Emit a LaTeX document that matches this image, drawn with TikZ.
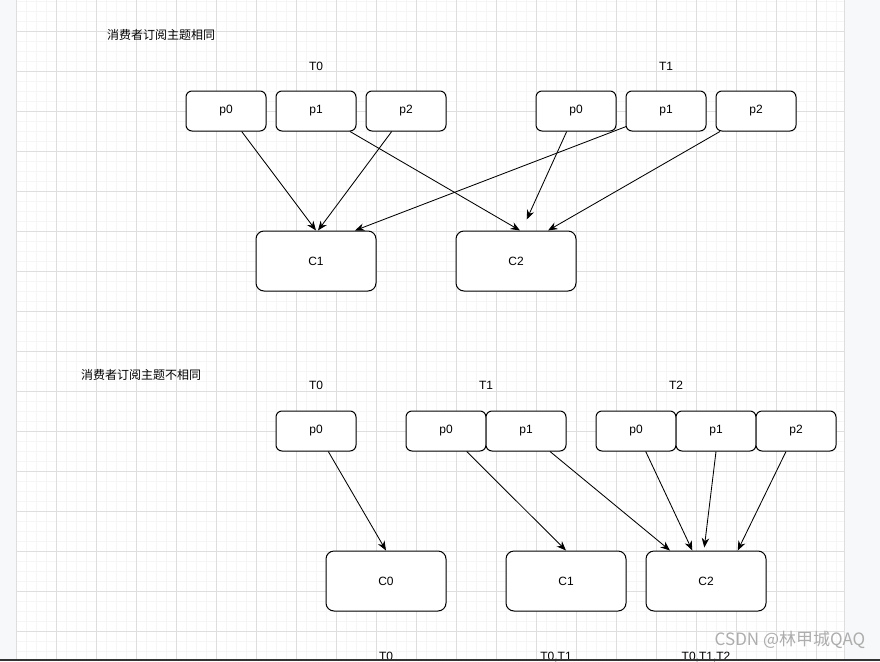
\documentclass[tikz,border=0pt]{standalone}
\usepackage{fontspec}
\setmainfont{Liberation Sans}
\newfontfamily\cjk{Noto Sans CJK SC}
\usetikzlibrary{arrows.meta}
\definecolor{gridmajor}{HTML}{DEDEDE}
\definecolor{gridminor}{HTML}{F5F5F5}
\definecolor{pagegray}{HTML}{F7F8F9}
\definecolor{markgray}{HTML}{ADADAD}
\tikzset{
  part/.style={draw,rounded corners=6pt,line width=1pt,minimum width=80pt,
    minimum height=40pt,inner sep=0pt,fill=white,font=\fontsize{12}{14}\selectfont},
  consumer/.style={part,rounded corners=8pt,minimum width=120pt,minimum height=60pt},
  lbl/.style={font=\fontsize{12}{14}\selectfont},
  flow/.style={-{Stealth[length=9.5pt,width=7.5pt]},line width=0.85pt}
}
\begin{document}
\begin{tikzpicture}[x=1pt,y=-1pt]
  \useasboundingbox (0,0) rectangle (880,661);
  \clip (0,0) rectangle (880,661);
  % canvas with grid
  \fill[white] (16,0) rectangle (844,661);
  \foreach \x in {26.5,36.5,...,836.5} \draw[gridminor] (\x,0) -- (\x,659);
  \foreach \y in {1.5,11.5,...,651.5} \draw[gridminor] (16,\y) -- (844,\y);
  \foreach \x in {56.5,96.5,...,816.5} \draw[gridmajor] (\x,0) -- (\x,659);
  \foreach \y in {31.5,71.5,...,631.5} \draw[gridmajor] (16,\y) -- (844,\y);
  \fill[pagegray] (0,0) rectangle (16,661);
  \fill[pagegray] (844,0) rectangle (880,661);
  \draw[gridmajor] (16,0) -- (16,661);
  \draw[gridmajor] (844,0) -- (844,661);

  % same topics
  \node[lbl] (title1) at (161,35) {\cjk 消费者订阅主题相同};
  \node[lbl] (st0) at (316,66) {T0};
  \node[lbl] (st1) at (666,66) {T1};
  \node[part] (st0p0) at (226,111) {p0};
  \node[part] (st0p1) at (316,111) {p1};
  \node[part] (st0p2) at (406,111) {p2};
  \node[part] (st1p0) at (576,111) {p0};
  \node[part] (st1p1) at (666,111) {p1};
  \node[part] (st1p2) at (756,111) {p2};
  \node[consumer] (sc1) at (316,261) {C1};
  \node[consumer] (sc2) at (516,261) {C2};
  \draw[flow] ([xshift=15.7pt]st0p0.south) -- (sc1.north);
  \draw[flow] ([xshift=-14.3pt]st0p2.south) -- ([xshift=2pt]sc1.north);
  \draw[flow] ([xshift=34pt]st0p1.south) -- ([xshift=4pt]sc2.north);
  \draw[flow] ([xshift=0.7pt,yshift=5pt]st1p1.south west) -- ([xshift=39pt]sc1.north);
  \draw[flow] ([xshift=-9.3pt]st1p0.south) -- ([xshift=10.7pt,yshift=11pt]sc2.north);
  \draw[flow] ([xshift=-36pt]st1p2.south) -- ([xshift=32pt]sc2.north);

  % different topics
  \node[lbl] (title2) at (141,375) {\cjk 消费者订阅主题不相同};
  \node[lbl] (dt0) at (316,385) {T0};
  \node[lbl] (dt1) at (486,385) {T1};
  \node[lbl] (dt2) at (676,385) {T2};
  \node[part] (dt0p0) at (316,431) {p0};
  \node[part] (dt1p0) at (446,431) {p0};
  \node[part] (dt1p1) at (526,431) {p1};
  \node[part] (dt2p0) at (636,431) {p0};
  \node[part] (dt2p1) at (716,431) {p1};
  \node[part] (dt2p2) at (796,431) {p2};
  \node[consumer] (dc0) at (386,581) {C0};
  \node[consumer] (dc1) at (566,581) {C1};
  \node[consumer] (dc2) at (706,581) {C2};
  \draw[flow] ([xshift=12.3pt]dt0p0.south) -- (dc0.north);
  \draw[flow] ([xshift=20.7pt]dt1p0.south) -- (dc1.north);
  \draw[flow] ([xshift=24pt]dt1p1.south) -- ([xshift=-36pt]dc2.north);
  \draw[flow] ([xshift=9.7pt]dt2p0.south) -- ([xshift=-13.7pt]dc2.north);
  \draw[flow] (dt2p1.south) -- ([xshift=-1.7pt,yshift=3pt]dc2.north);
  \draw[flow] ([xshift=-10pt]dt2p2.south) -- ([xshift=31.7pt]dc2.north);
  \node[lbl,anchor=base] (dl0) at (386,660) {T0};
  \node[lbl,anchor=base] (dl1) at (556,660) {T0,T1};
  \node[lbl,anchor=base] (dl2) at (706,660) {T0,T1,T2};

  % watermark and bottom edge
  \node[text=markgray,font=\cjk\fontsize{17}{19}\selectfont] (mark) at (790,640) {CSDN @林甲城QAQ};
  \fill[black!80] (0,659) rectangle (880,661);
\end{tikzpicture}
\end{document}
